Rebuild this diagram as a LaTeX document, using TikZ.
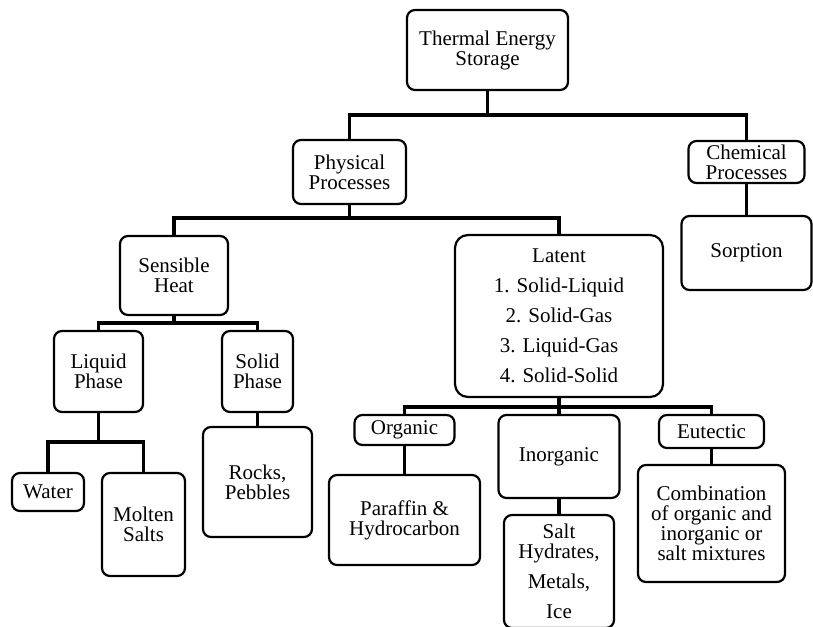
\documentclass[tikz,border=0pt]{standalone}
\usepackage{fontspec}
\setmainfont{Liberation Serif}
\usetikzlibrary{calc}
\tikzstyle{box}=[draw,line width=2.2pt,rounded corners=8pt,align=center,inner sep=0pt]
\tikzstyle{link}=[line width=3.4pt]

\begin{document}
\begin{tikzpicture}[x=1pt,y=-1pt,font=\fontsize{21}{20}\selectfont]
	\useasboundingbox (0,0) rectangle (813,626);
	\clip (0,0) rectangle (813,626);
	% top levels
	\node[box,minimum width=161,minimum height=80] (tes)    at (487.5,50)  {Thermal Energy\\Storage};
	\node[box,minimum width=113,minimum height=64] (phys)   at (349.5,172) {Physical\\Processes};
	\node[box,minimum width=116,minimum height=42] (chem)   at (746.5,162) {Chemical\\Processes};
	\node[box,minimum width=130,minimum height=74] (sorp)   at (746.5,253) {Sorption};
	\node[box,minimum width=108,minimum height=79] (sens)   at (174,275.5) {Sensible\\Heat};
	\node[box,minimum width=208,minimum height=162,rounded corners=13pt] (latent) at (559,316)
		{Latent\\[10pt]1. Solid-Liquid\\[10pt]2. Solid-Gas\\[10pt]3. Liquid-Gas\\[10pt]4. Solid-Solid};
	% sensible side
	\node[box,minimum width=89,minimum height=81]  (liq)    at (98.5,371.5)  {Liquid\\Phase};
	\node[box,minimum width=71,minimum height=81]  (sol)    at (257.5,371.5) {Solid\\Phase};
	\node[box,minimum width=72,minimum height=38]  (water)  at (48,492)      {Water};
	\node[box,minimum width=83,minimum height=103] (molten) at (143.5,524.5) {Molten\\Salts};
	\node[box,minimum width=109,minimum height=110] (rocks) at (257.5,482)   {Rocks,\\Pebbles};
	% latent side
	\node[box,minimum width=100,minimum height=30]  (org)   at (404.5,430)   {Organic};
	\node[box,minimum width=151,minimum height=90]  (para)  at (404.5,520)   {Paraffin \&\\Hydrocarbon};
	\node[box,minimum width=121,minimum height=83]  (inorg) at (559,456.5)   {Inorganic};
	\node[box,minimum width=110,minimum height=113] (salt)  at (559,571.5)
		{Salt\\Hydrates,\\[10pt]Metals,\\[10pt]Ice};
	\node[box,minimum width=105,minimum height=33]  (eut)   at (711.5,431.5) {Eutectic};
	\node[box,minimum width=147,minimum height=117] (comb)  at (711.5,523.5)
		{Combination\\of organic and\\inorganic or\\salt mixtures};
	% branches
	\coordinate (b1) at (487.5,115);
	\coordinate (b2) at (349.5,218);
	\coordinate (b3) at (174,323);
	\coordinate (b4) at (98.5,442);
	\coordinate (b5) at (559,407);
	\draw[link] (tes) -- (b1) -| (phys);
	\draw[link] (b1) -| (chem);
	\draw[link] (chem) -- (sorp);
	\draw[link] (phys) -- (b2) -| (sens);
	\draw[link] (b2) -| (latent);
	\draw[link] (sens) -- (b3) -| (liq);
	\draw[link] (b3) -| (sol);
	\draw[link] (liq) -- (b4) -| (water);
	\draw[link] (b4) -| (molten);
	\draw[link] (sol) -- (rocks);
	\draw[link] (latent) -- (b5) -| (org);
	\draw[link] (b5) -- (inorg);
	\draw[link] (b5) -| (eut);
	\draw[link] (org) -- (para);
	\draw[link] (inorg) -- (salt);
	\draw[link] (eut) -- (comb);
\end{tikzpicture}
\end{document}
